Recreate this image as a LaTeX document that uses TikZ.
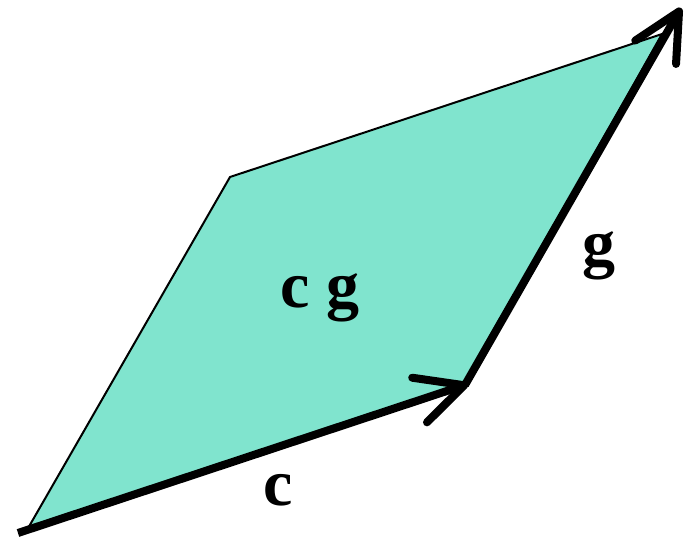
\documentclass[tikz,border=0pt]{standalone}
\usepackage{xcolor}
\usepackage{fontspec}
\setmainfont{Liberation Serif}
\usepackage{tikz}
\usetikzlibrary{arrows.meta, positioning, calc}
\definecolor{myaqua}{RGB}{128,228,206}
\definecolor{mydark}{RGB}{0,0,0}
\tikzset{
  areafill/.style={fill=myaqua, draw=mydark, line width=2pt, line join=miter},
  vecarrow/.style={-{Straight Barb[length=47pt, width=47pt, round]}, line width=8pt, color=mydark},
  veclabel/.style={font=\fontsize{66}{66}\selectfont\bfseries, anchor=base, inner sep=0pt}
}

\begin{document}
\begin{tikzpicture}[x=1pt, y=-1pt]
  \useasboundingbox (0,0) rectangle (685,540);

  % Place corners
  \coordinate (a) at (27,530);
  \coordinate (c) at (465,385);
  \coordinate (d) at (662,34);
  \coordinate (b) at (230,177);
  \coordinate (cstart) at (18,533);
  \coordinate (ctip) at (468,384);
  \coordinate (gtip) at (681,8);

  % Draw area
  \draw[areafill] (a) -- (c) -- (d) -- (b) -- cycle;

  % Draw vectors
  \draw[vecarrow] (cstart) -- (ctip);
  \draw[vecarrow] (c) -- (gtip);

  % Labels
  \node[veclabel] (area) at (320,307) {c g};
  \node[veclabel] (clabel) at (278,505) {c};
  \node[veclabel] (glabel) at (599,265) {g};
\end{tikzpicture}
\end{document}
